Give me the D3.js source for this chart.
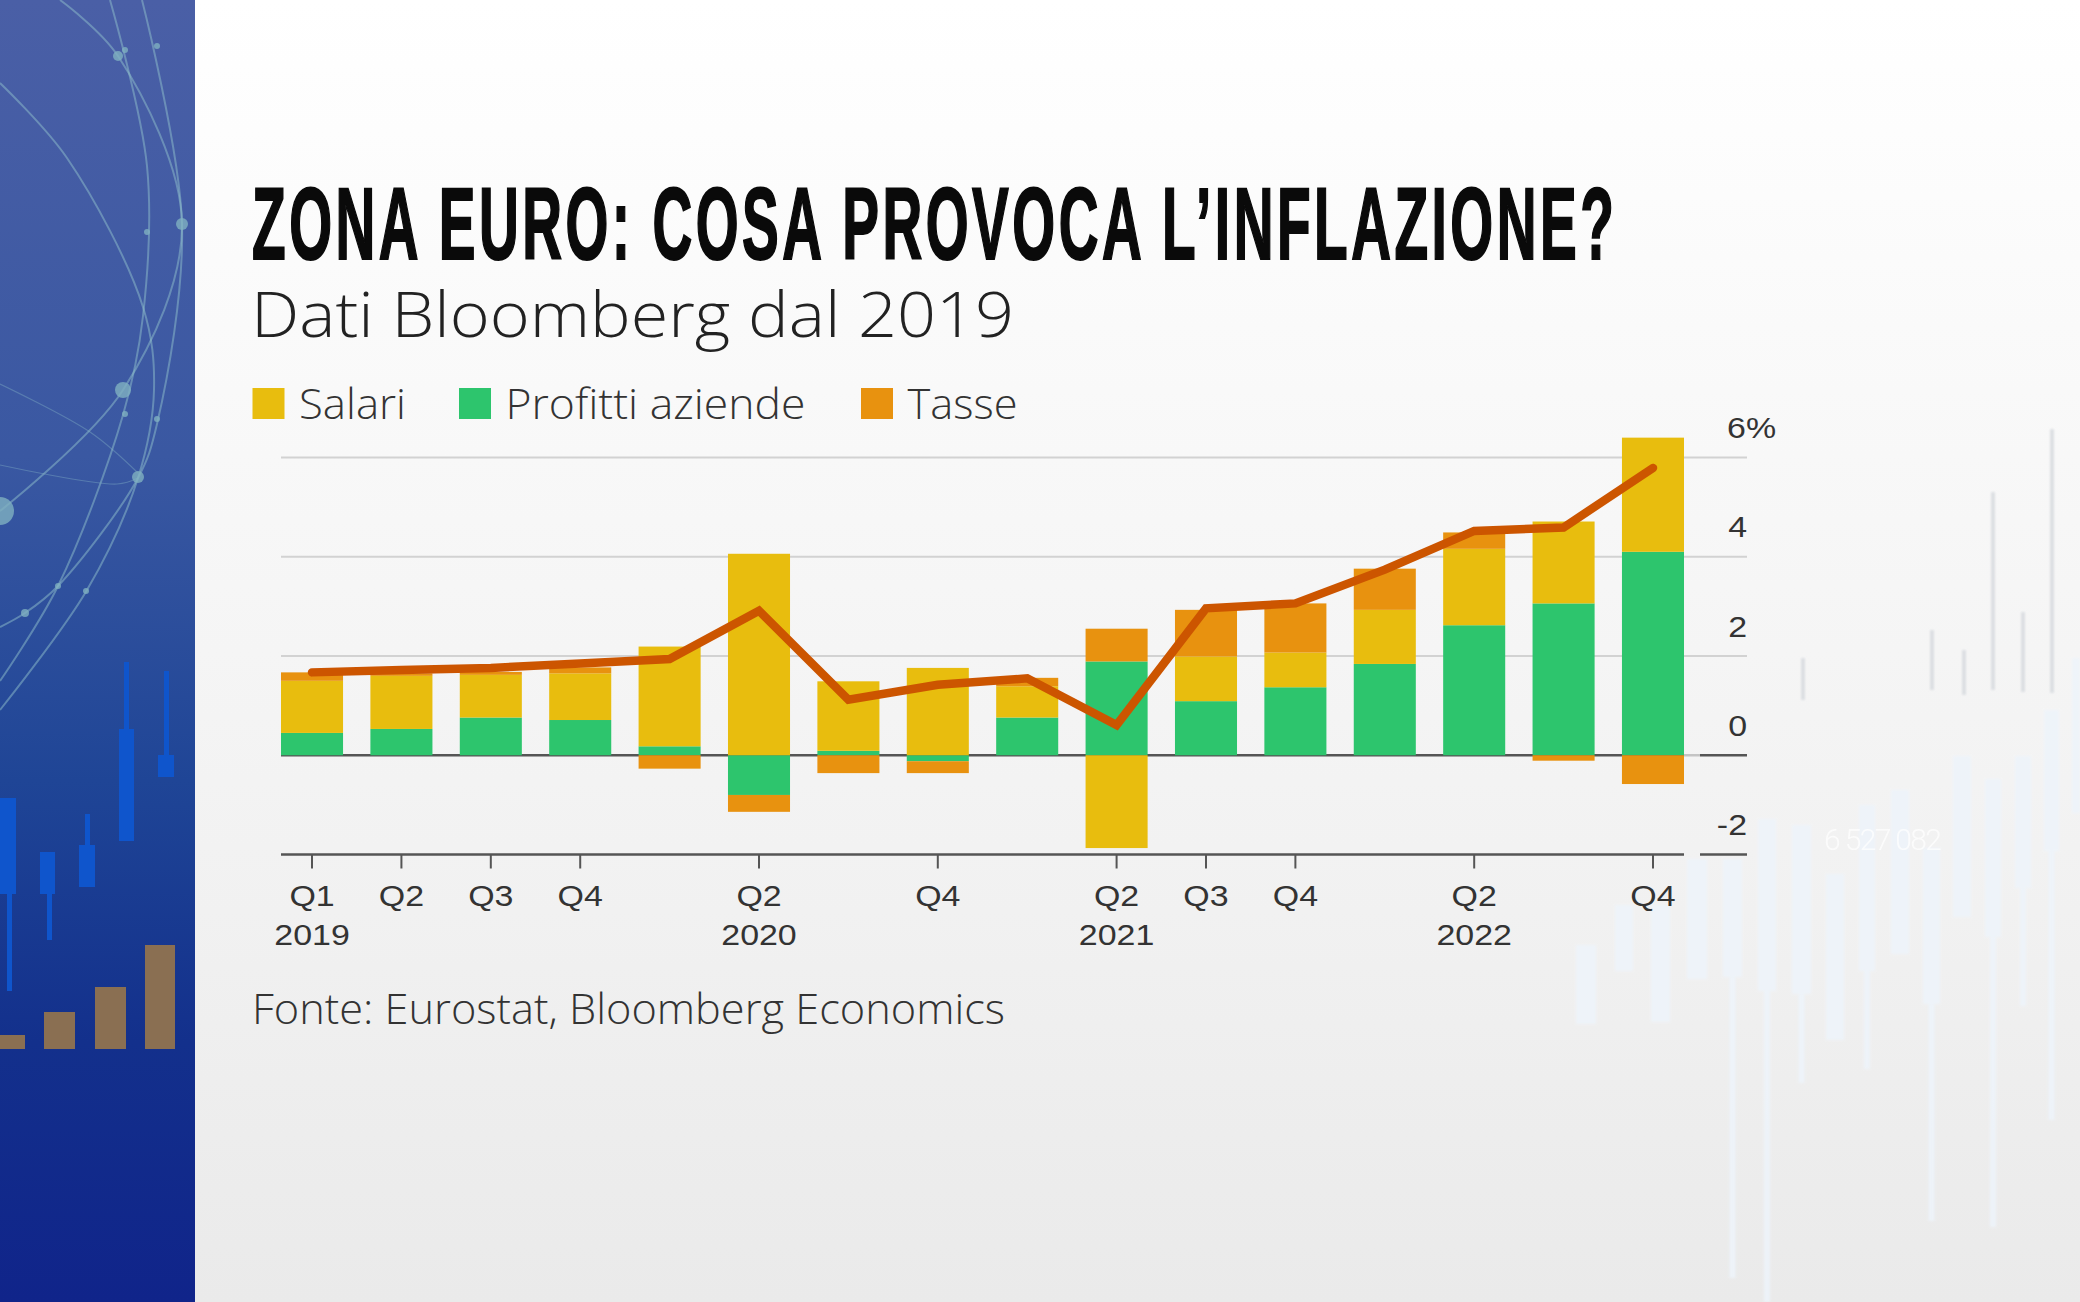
<!DOCTYPE html>
<html>
<head>
<meta charset="utf-8">
<title>Zona euro: cosa provoca l'inflazione?</title>
<script src="https://cdn.jsdelivr.net/npm/d3@7"></script>
<style>
  html, body { margin: 0; padding: 0; background: #fff; overflow: hidden; }
  svg { display: block; }
  .tick text { font-family: "Liberation Sans", Arial, sans-serif; font-size: 29px; fill: #333; }
</style>
</head>
<body>
<div id="chart"></div>
<script>
// Chart values
const quarters = ['2019Q1','2019Q2','2019Q3','2019Q4','2020Q1','2020Q2','2020Q3','2020Q4',
                  '2021Q1','2021Q2','2021Q3','2021Q4','2022Q1','2022Q2','2022Q3','2022Q4'];
const quarterLabels = ['Q1','Q2','Q3','Q4','','Q2','','Q4','','Q2','Q3','Q4','','Q2','','Q4'];
const yearLabels = ['2019','','','','','2020','','','','2021','','','','2022','',''];
const salari   = [1.05, 1.07, 0.86, 0.94, 2.01, 4.06, 1.40, 1.76, 0.63, -1.87, 0.90, 0.70, 1.09, 1.54, 1.65, 2.30];
const profitti = [0.45, 0.53, 0.76, 0.71, 0.18, -0.80, 0.09, -0.12, 0.76, 1.89, 1.09, 1.37, 1.84, 2.62, 3.06, 4.10];
const tasse    = [0.17, 0.05, 0.06, 0.12, -0.27, -0.34, -0.36, -0.24, 0.17, 0.66, 0.94, 0.99, 0.83, 0.33, -0.11, -0.58];
const inflazione = [1.67, 1.72, 1.76, 1.85, 1.94, 2.91, 1.12, 1.42, 1.55, 0.61, 2.96, 3.06, 3.74, 4.52, 4.59, 5.79];
const yTicks = [-2, 0, 2, 4, 6];

const seriesNames = ['Salari', 'Profitti aziende', 'Tasse'];
const seriesColors = ['#e8bd0e', '#2dc56d', '#e8920f'];

// Background decoration only (candles of the broadcast template): x, width, body top/bottom, wick end
const panelCandles = [
  [0, 16, 798, 894, 991, 9], [40, 15, 852, 894, 940, 49], [79, 16, 845, 887, 814, 87],
  [119, 15, 729, 841, 662, 126], [158, 16, 755, 777, 671, 166]
];
const panelBars = [[0, 25, 1035], [44, 31, 1012], [95, 31, 987], [145, 30, 945]];
const ghostCandles = [
  [1576, 20, 945, 1024], [1615, 18, 905, 971], [1651, 19, 905, 1022], [1687, 20, 859, 979],
  [1723, 19, 859, 977, 1278], [1758, 18, 819, 991, 1302], [1792, 19, 825, 994, 1083],
  [1826, 18, 874, 1040], [1859, 16, 805, 971, 1069], [1891, 18, 790, 954],
  [1923, 17, 848, 1004, 1221], [1953, 18, 756, 917], [1985, 16, 779, 937, 1227],
  [2015, 16, 756, 888, 1006], [2044, 15, 710, 851, 1120], [2072, 8, 658, 813]
];
const ghostWicks = [[1801, 658, 700], [1930, 630, 690], [1962, 650, 695], [2021, 612, 692], [1991, 492, 690], [2050, 429, 693]];
const globeLines = [
  [[60, 0], [118, 56], [182, 224], [123, 390], [0, 511]],
  [[0, 83], [67, 158], [143, 307], [154, 390], [138, 478], [87, 590], [0, 710]],
  [[110, 0], [147, 166], [143, 316], [123, 415], [58, 586], [0, 681]],
  [[142, 0], [182, 224], [157, 424], [138, 478], [58, 586], [25, 613], [0, 627]],
  [[0, 384], [90, 432], [138, 473]],
  [[0, 465], [117, 484], [138, 478]]
];
const globeNodes = [[0, 511, 14], [123, 390, 8], [138, 477, 6], [182, 224, 6], [118, 56, 5], [125, 50, 3],
                    [157, 46, 3], [147, 232, 3], [157, 419, 3], [125, 414, 3], [58, 586, 3], [25, 613, 4], [86, 591, 3]];

const width = 2080;
const height = 1302;

const svg = d3.select('#chart').append('svg')
  .attr('width', width)
  .attr('height', height);

const defs = svg.append('defs');
const addGradient = (id, stops) => {
  const g = defs.append('linearGradient').attr('id', id)
    .attr('x1', 0).attr('y1', 0).attr('x2', 0).attr('y2', 1);
  stops.forEach(s => g.append('stop').attr('offset', s[0]).attr('stop-color', s[1]));
};
addGradient('pageBg', [[0, '#ffffff'], [0.3, '#f9f9f9'], [0.7, '#f1f1f1'], [1, '#eaeaea']]);
addGradient('panelBg', [[0, '#4a5fa6'], [0.35, '#3a58a2'], [0.6, '#1f4596'], [0.8, '#13308c'], [1, '#10248a']]);
defs.append('filter').attr('id', 'soft').append('feGaussianBlur').attr('stdDeviation', 1);

// Background
svg.append('rect').attr('width', width).attr('height', height).attr('fill', 'url(#pageBg)');

const ghost = svg.append('g').attr('opacity', 0.85).attr('filter', 'url(#soft)');
ghost.selectAll('.wick-low').data(ghostCandles.filter(d => d[4])).enter().append('rect')
  .attr('x', d => d[0] + d[1] / 2 - 3).attr('y', d => d[3])
  .attr('width', 6).attr('height', d => d[4] - d[3]).attr('fill', '#eef4fb');
ghost.selectAll('.body').data(ghostCandles).enter().append('rect')
  .attr('x', d => d[0]).attr('y', d => d[2])
  .attr('width', d => d[1]).attr('height', d => d[3] - d[2]).attr('fill', '#eef4fb');
ghost.selectAll('.wick-up').data(ghostWicks).enter().append('rect')
  .attr('x', d => d[0]).attr('y', d => d[1])
  .attr('width', 4).attr('height', d => d[2] - d[1]).attr('fill', '#d8dbe0');
svg.append('text')
  .attr('x', 1824).attr('y', 850)
  .attr('font-family', 'Roboto, sans-serif').attr('font-size', 30).attr('font-weight', 300)
  .attr('fill', '#ffffff').attr('opacity', 0.75)
  .attr('textLength', 118).attr('lengthAdjust', 'spacing')
  .text('6 527 082');

// Left panel
const panel = svg.append('g');
panel.append('rect').attr('width', 195).attr('height', height).attr('fill', 'url(#panelBg)');
const curve = d3.line().curve(d3.curveCatmullRom.alpha(0.5));
panel.selectAll('.globe').data(globeLines).enter().append('path')
  .attr('d', curve)
  .attr('fill', 'none')
  .attr('stroke', '#8fc0cc')
  .attr('stroke-opacity', (d, i) => (i > 3 ? 0.35 : 0.5))
  .attr('stroke-width', (d, i) => (i > 3 ? 1.2 : 2));
panel.selectAll('.node').data(globeNodes).enter().append('circle')
  .attr('cx', d => d[0]).attr('cy', d => d[1]).attr('r', d => d[2])
  .attr('fill', '#7fb0c0').attr('fill-opacity', 0.8);
panel.selectAll('.cwick').data(panelCandles).enter().append('rect')
  .attr('x', d => d[5] - 2).attr('y', d => Math.min(d[4], d[2]))
  .attr('width', 5).attr('height', d => (d[4] < d[2] ? d[2] - d[4] : d[4] - d[2]))
  .attr('fill', '#0f55cc');
panel.selectAll('.cbody').data(panelCandles).enter().append('rect')
  .attr('x', d => d[0]).attr('y', d => d[2])
  .attr('width', d => d[1]).attr('height', d => d[3] - d[2])
  .attr('fill', '#0f55cc');
panel.selectAll('.pbar').data(panelBars).enter().append('rect')
  .attr('x', d => d[0]).attr('y', d => d[2])
  .attr('width', d => d[1]).attr('height', d => 1049 - d[2])
  .attr('fill', '#8a6f52');

// Title block
const fitText = (x, y, w, size, family, weight, fill, str) => svg.append('text')
  .attr('x', x).attr('y', y)
  .attr('font-family', family).attr('font-size', size).attr('font-weight', weight)
  .attr('fill', fill)
  .attr('textLength', w).attr('lengthAdjust', 'spacingAndGlyphs')
  .text(str);

// Title: no condensed face here, so measure it, squeeze it sideways and open it up with letter spacing
const titleText = 'ZONA EURO: COSA PROVOCA L\u2019INFLAZIONE?';
const titleWidth = 1362;
const titleGap = 3.5;
const title = svg.append('text')
  .attr('font-family', '"Liberation Sans Narrow", "Liberation Sans", sans-serif')
  .attr('font-size', 102).attr('font-weight', 700)
  .attr('fill', '#0a0a0a')
  .text(titleText);
const titleNatural = title.node().getComputedTextLength();
const titleSqueeze = (titleWidth - titleGap * (titleText.length - 1)) / titleNatural;
title
  .attr('letter-spacing', titleGap / titleSqueeze)
  .attr('transform', `translate(252, 259) scale(${titleSqueeze}, 1)`)
  .attr('stroke', '#0a0a0a').attr('stroke-width', 2);

fitText(251, 337, 763, 63, '"Open Sans", sans-serif', 300, '#222', 'Dati Bloomberg dal 2019');
fitText(252, 1024, 753, 42, '"Open Sans", sans-serif', 300, '#333', 'Fonte: Eurostat, Bloomberg Economics');

// Legend
const legendX = [252.5, 459, 861];
const legendW = [107, 300, 110];
seriesNames.forEach((name, i) => {
  svg.append('rect')
    .attr('x', legendX[i]).attr('y', 388)
    .attr('width', 32).attr('height', 31)
    .attr('fill', seriesColors[i]);
  fitText(legendX[i] + 46.5, 419, legendW[i], 43, '"Open Sans", sans-serif', 300, '#333', name);
});

// Scales
const x = d3.scaleBand()
  .domain(quarters)
  .range([281, 1684])
  .paddingInner(0.306)
  .paddingOuter(0);

const y = d3.scaleLinear()
  .domain([-2, 6])
  .range([854.5, 457.5]);

const gridRight = 1747;

// Grid lines
svg.append('g').selectAll('line')
  .data(yTicks.filter(d => d > 0))
  .enter().append('line')
  .attr('x1', 281).attr('x2', gridRight)
  .attr('y1', d => y(d)).attr('y2', d => y(d))
  .attr('stroke', '#d2d2d2').attr('stroke-width', 2);

// Zero line, broken before the value labels like the bottom axis
[[281, 1684, '#555'], [1684, 1700, '#c4c4c4'], [1700, gridRight, '#555']].forEach(s => {
  svg.append('line')
    .attr('x1', s[0]).attr('x2', s[1])
    .attr('y1', y(0)).attr('y2', y(0))
    .attr('stroke', s[2]).attr('stroke-width', 2.5);
});

// Stacked bars
const rows = quarters.map((q, i) => ({ q, salari: salari[i], profitti: profitti[i], tasse: tasse[i] }));
const stackKeys = ['profitti', 'salari', 'tasse'];
const stackColors = { salari: seriesColors[0], profitti: seriesColors[1], tasse: seriesColors[2] };
const stacked = d3.stack().keys(stackKeys).offset(d3.stackOffsetDiverging)(rows);

svg.append('g').selectAll('g')
  .data(stacked)
  .enter().append('g')
  .attr('fill', d => stackColors[d.key])
  .selectAll('rect')
  .data(d => d)
  .enter().append('rect')
  .attr('x', d => x(d.data.q))
  .attr('y', d => y(Math.max(d[0], d[1])))
  .attr('width', x.bandwidth())
  .attr('height', d => Math.abs(y(d[0]) - y(d[1])));

// Bottom axis
const xAxis = d3.axisBottom(x)
  .tickValues(quarters.filter((q, i) => quarterLabels[i]))
  .tickSize(14)
  .tickFormat(q => quarterLabels[quarters.indexOf(q)]);

const xAxisG = svg.append('g')
  .attr('transform', `translate(0, ${y(-2)})`)
  .call(xAxis);
xAxisG.select('.domain').remove();
xAxisG.selectAll('.tick line').attr('stroke', '#555').attr('stroke-width', 2);
xAxisG.selectAll('.tick text')
  .attr('y', 52).attr('dy', 0)
  .attr('transform', 'scale(1.17,1)');
xAxisG.selectAll('.tick').filter(q => yearLabels[quarters.indexOf(q)])
  .append('text')
  .attr('y', 91).attr('fill', '#333').attr('text-anchor', 'middle')
  .attr('transform', 'scale(1.17,1)')
  .text(q => yearLabels[quarters.indexOf(q)]);

[[281, 1684], [1700, gridRight]].forEach(s => {
  svg.append('line')
    .attr('x1', s[0]).attr('x2', s[1])
    .attr('y1', y(-2)).attr('y2', y(-2))
    .attr('stroke', '#555').attr('stroke-width', 2.5);
});

// Right axis labels sit above their grid lines
const yAxis = d3.axisRight(y)
  .tickValues(yTicks)
  .tickSize(0)
  .tickFormat(d => (d === 6 ? '6%' : d));

const yAxisG = svg.append('g')
  .attr('transform', `translate(${gridRight}, 0)`)
  .call(yAxis);
yAxisG.select('.domain').remove();
yAxisG.selectAll('.tick text')
  .attr('x', 0).attr('y', -20).attr('dy', 0)
  .attr('text-anchor', 'end')
  .attr('transform', 'scale(1.17,1)');
yAxisG.selectAll('.tick text').filter(d => d === 6)
  .attr('x', -17).attr('text-anchor', 'start');

// Inflation line
const line = d3.line()
  .x((d, i) => x(quarters[i]) + x.bandwidth() / 2)
  .y(d => y(d));

svg.append('path')
  .datum(inflazione)
  .attr('fill', 'none')
  .attr('stroke', '#cc5500')
  .attr('stroke-width', 8.5)
  .attr('stroke-linecap', 'round')
  .attr('stroke-linejoin', 'miter')
  .attr('d', line);
</script>
</body>
</html>
